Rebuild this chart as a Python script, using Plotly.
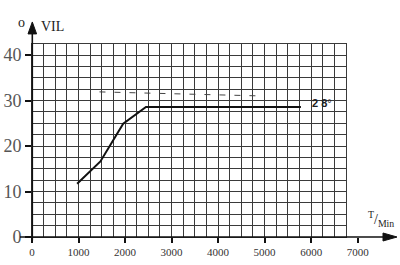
import plotly.graph_objects as go

# Data
t_min = [970, 1470, 1960, 2450, 5780]
vil = [11.7, 16.6, 24.9, 28.6, 28.6]
dash_t = [1450, 4960]
dash_v = [31.9, 31.0]
x_ticks = [0, 1000, 2000, 3000, 4000, 5000, 6000, 7000]
y_ticks = [0, 10, 20, 30, 40]
grid_x_max = 6750
grid_y_max = 42.5
x_max = 7910
y_max = 52.1

W, H = 400, 265
ml, mb = 32, 27.5
pw = W - ml
ph = H - mb

serif = "Liberation Serif"
gridc = "#3a3a3a"


def px(x):
    return (x - ml) / pw


def py(y):
    return (ph - y) / ph


fig = go.Figure()

# main curve
fig.add_trace(go.Scatter(x=t_min, y=vil, mode="lines",
                         line=dict(color="#111", width=2),
                         xaxis="x2", yaxis="y2", showlegend=False, hoverinfo="skip"))
# dashed line
fig.add_trace(go.Scatter(x=dash_t, y=dash_v, mode="lines",
                         line=dict(color="#444", width=1, dash="6px,9px"),
                         xaxis="x2", yaxis="y2", showlegend=False, hoverinfo="skip"))
# dummy trace on main axes
fig.add_trace(go.Scatter(x=[0], y=[0], mode="markers", marker=dict(opacity=0),
                         showlegend=False, hoverinfo="skip"))

fig.update_layout(
    width=W, height=H,
    margin=dict(l=ml, r=0, t=0, b=mb),
    paper_bgcolor="white", plot_bgcolor="rgba(0,0,0,0)",
    xaxis=dict(range=[0, x_max], tickvals=x_ticks, showgrid=False, zeroline=False,
               showline=False,
               ticks="outside", ticklen=5, tickcolor="#111", tickwidth=1.5,
               tickfont=dict(family=serif, size=11, color="#333"),
               domain=[0, 1], anchor="y"),
    yaxis=dict(range=[0, y_max], tickvals=y_ticks, showgrid=False, zeroline=False,
               showline=False,
               ticks="outside", ticklen=6, tickcolor="#111", tickwidth=1.5,
               tickfont=dict(family=serif, size=18, color="#555"),
               domain=[0, 1], anchor="x"),
    xaxis2=dict(range=[0, grid_x_max], dtick=250, tick0=0, showgrid=True,
                gridcolor=gridc, gridwidth=1.1, zeroline=False,
                showticklabels=False, ticks="", showline=True, mirror=True,
                linecolor=gridc, linewidth=1.1,
                domain=[0, grid_x_max / x_max], anchor="y2"),
    yaxis2=dict(range=[0, grid_y_max], dtick=2.5, tick0=0, showgrid=True,
                gridcolor=gridc, gridwidth=1.1, zeroline=False,
                showticklabels=False, ticks="", showline=True, mirror=True,
                linecolor=gridc, linewidth=1.1,
                domain=[0, grid_y_max / y_max], anchor="x2"),
)

# axis lines with arrowheads
fig.add_shape(type="line", xref="paper", yref="paper",
              x0=px(20), x1=px(388), y0=py(237.5), y1=py(237.5),
              line=dict(color="#111", width=1.6))
fig.add_shape(type="line", xref="paper", yref="paper",
              x0=px(32.3), x1=px(32.3), y0=py(241), y1=py(30),
              line=dict(color="#111", width=1.6))
fig.add_shape(type="path", xref="paper", yref="paper",
              path=f"M {px(397)} {py(237.5)} L {px(383)} {py(233.5)} L {px(383)} {py(241.5)} Z",
              fillcolor="#111", line=dict(color="#111", width=1))
fig.add_shape(type="path", xref="paper", yref="paper",
              path=f"M {px(32.3)} {py(22)} L {px(28)} {py(34)} L {px(36.6)} {py(34)} Z",
              fillcolor="#111", line=dict(color="#111", width=1))

# axis titles
fig.add_annotation(x=px(39), y=py(27), xref="paper", yref="paper",
                   text="VIL", showarrow=False, xanchor="left", yanchor="middle",
                   font=dict(family=serif, size=14, color="#222"))
fig.add_annotation(x=px(27), y=py(23), xref="paper", yref="paper",
                   text="o", showarrow=False, xanchor="right", yanchor="middle",
                   font=dict(family=serif, size=14, color="#222"))
fig.add_annotation(x=px(396), y=py(219), xref="paper", yref="paper",
                   text="<sup>T</sup>/<sub>Min</sub>", showarrow=False,
                   xanchor="right", yanchor="middle",
                   font=dict(family=serif, size=14, color="#222"))
# curve label
fig.add_annotation(x=6230, y=29.4, xref="x2", yref="y2", text="<b>2 8</b>°",
                   showarrow=False, font=dict(family="Liberation Sans", size=11, color="#222"))

fig.write_html("out.html")
